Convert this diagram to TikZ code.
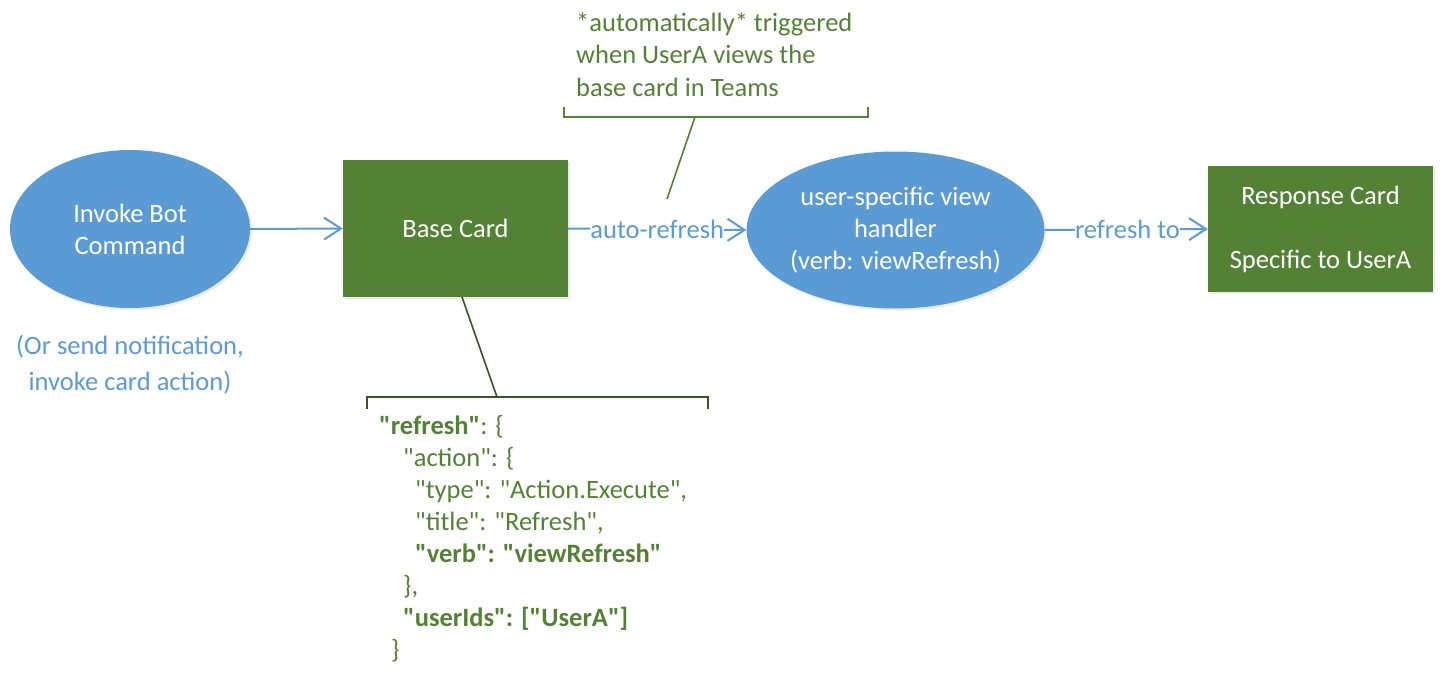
\documentclass[tikz,border=0pt]{standalone}
\usepackage{fontspec}
\setmainfont{Carlito}[Ligatures=TeXOff]
\usetikzlibrary{arrows.meta,shapes.geometric,shadows}
\definecolor{bl}{HTML}{5B9BD5}
\definecolor{gr}{HTML}{548235}
\definecolor{dgr}{HTML}{375623}
\begin{document}
\begin{tikzpicture}[x=1pt,y=-1pt,
  font=\fontsize{26.5}{32}\selectfont,
  shad/.style={drop shadow={opacity=0.15,shadow xshift=2pt,shadow yshift=-2pt}},
  oval/.style={ellipse,fill=bl,text=white,align=center,inner sep=0pt,shad},
  card/.style={rectangle,fill=gr,text=white,align=center,inner sep=0pt,shad},
  flow/.style={draw=bl,line width=2pt,-{Straight Barb[length=17pt,width=22pt,line width=2pt]}},
  lbl/.style={fill=white,text=bl,inner sep=0pt},
  json/.style={anchor=base west,text=gr,inner sep=0pt},
  note/.style={text=gr,inner sep=0pt}]
\useasboundingbox (0,0) rectangle (1444,680);
% shapes
\node[oval,minimum width=240,minimum height=158] (invoke) at (130,229) {Invoke Bot\\Command};
\node[text=bl,align=center,font=\fontsize{26.5}{36}\selectfont] (ornote) at (130,365) {(Or send notification,\\invoke card action)};
\node[card,minimum width=225,minimum height=137] (base) at (455.5,228.5) {Base Card};
\node[oval,minimum width=285,minimum height=157] (handler) at (895.5,230) {user-specific view\\handler\\(verb: viewRefresh)};
\node[card,minimum width=225,minimum height=126] (resp) at (1320.5,229) {Response Card\\[32pt]Specific to UserA};
% arrows
\draw[flow] (invoke.east) -- (base.west);
\draw[flow] (base.east) -- node[lbl,pos=0.88,anchor=east] (lab1) {auto-refresh} (handler.west);
\draw[flow] (handler.east) -- node[lbl,pos=0.835,anchor=east] (lab2) {refresh to} (resp.west);
% top note
\node[note,anchor=north west,align=left,font=\fontsize{26.5}{32.5}\selectfont] (topnote) at (576,12) {*automatically* triggered\\when UserA views the\\base card in Teams};
\coordinate (tb) at (695,117);
\coordinate (tt) at (667,199);
\draw[gr,line width=1.6pt] (564,107) -- (564,117) -- (868,117) -- (868,107);
\draw[gr,line width=1.6pt] (tb) -- (tt);
% bottom note
\coordinate (bt) at (462,297);
\coordinate (bb) at (497,397);
\draw[dgr,line width=1.6pt] (bt) -- (bb);
\draw[dgr,line width=1.6pt] (367,409) -- (367,397) -- (708,397) -- (708,409);
\node[json] (j1) at (379,434) {\textbf{"refresh"}: \{};
\node[json] (j2) at (403,466) {"action": \{};
\node[json] (j3) at (415,498) {"type": "Action.Execute",};
\node[json] (j4) at (415,530) {"title": "Refresh",};
\node[json] (j5) at (415,562) {\textbf{"verb": "viewRefresh"}};
\node[json] (j6) at (403,594) {\},};
\node[json] (j7) at (403,626) {\textbf{"userIds": ["UserA"]}};
\node[json] (j8) at (391,658) {\}};
\end{tikzpicture}
\end{document}
